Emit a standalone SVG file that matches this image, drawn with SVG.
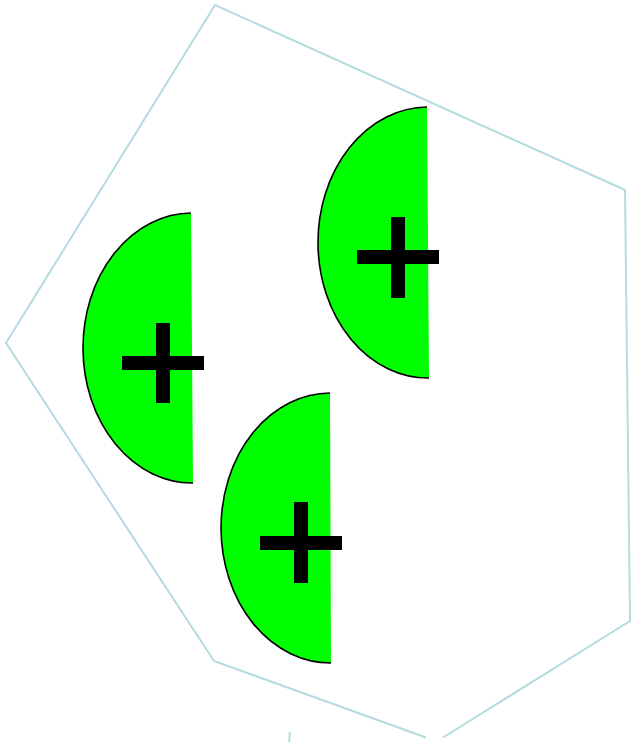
<svg xmlns="http://www.w3.org/2000/svg" width="631" height="742" viewBox="0 0 631 742">
<style>
.outline{fill:none;stroke:#b3dbe0;stroke-width:2;stroke-linejoin:miter}
.half{fill:#00ff00;stroke:none}
.arc{fill:none;stroke:#000;stroke-width:1.6}
.plus{fill:#000}
</style>
<rect width="631" height="742" fill="#fff"/>
<g id="connectors">
<path class="outline" d="M426,737.5 L214,661 L6,343 L215,5 L625,190 L630,621 L443,737.5"/>
<line class="outline" x1="290" y1="732" x2="289" y2="742"/>
</g>
<g id="node1">
<path class="half" d="M191,213 A109,135 0 0 0 193,483 Z"/>
<path class="arc" d="M191,213 A109,135 0 0 0 193,483"/>
<rect class="plus" x="156" y="323" width="14" height="80"/>
<rect class="plus" x="122" y="356" width="82" height="14"/>
</g>
<g id="node2">
<path class="half" d="M427,107 A110,135.5 0 0 0 429,378 Z"/>
<path class="arc" d="M427,107 A110,135.5 0 0 0 429,378"/>
<rect class="plus" x="391" y="217" width="14" height="81"/>
<rect class="plus" x="357" y="250" width="82" height="14"/>
</g>
<g id="node3">
<path class="half" d="M330,393 A109.5,135 0 0 0 331,663 Z"/>
<path class="arc" d="M330,393 A109.5,135 0 0 0 331,663"/>
<rect class="plus" x="294" y="502" width="14" height="81"/>
<rect class="plus" x="260" y="536" width="82" height="14"/>
</g>
</svg>
